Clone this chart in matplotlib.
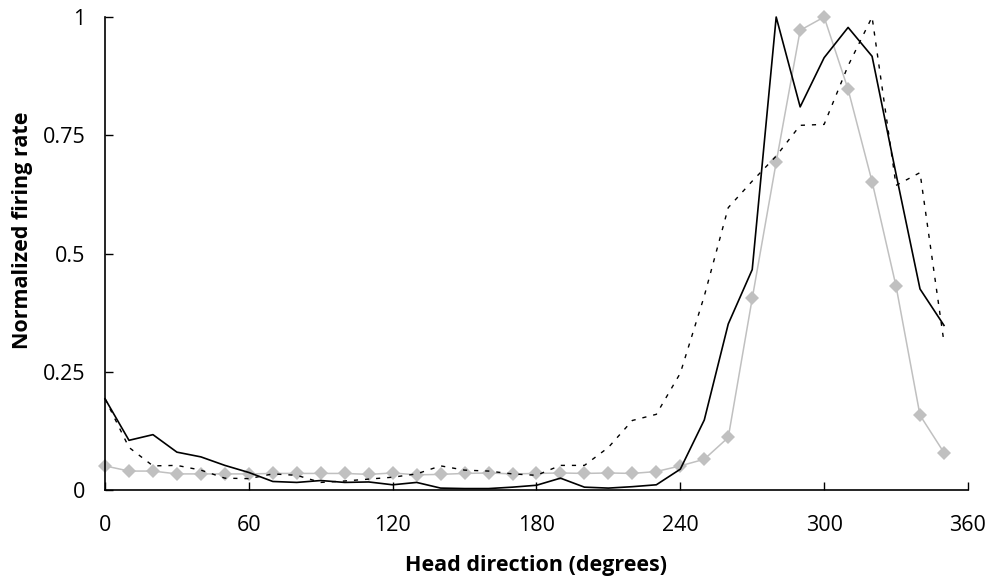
import numpy as np
import matplotlib
matplotlib.use("Agg")
import matplotlib.pyplot as plt

# head direction bins (degrees)
angles = np.arange(0, 360, 10)

# solid black curve
solid_rate = [0.193, 0.105, 0.117, 0.080, 0.070, 0.052, 0.037, 0.018, 0.016, 0.020,
              0.016, 0.017, 0.011, 0.016, 0.004, 0.003, 0.003, 0.006, 0.010, 0.025,
              0.006, 0.004, 0.007, 0.011, 0.044, 0.148, 0.351, 0.466, 1.000, 0.810,
              0.914, 0.978, 0.917, 0.668, 0.425, 0.348]

# dashed black curve
dashed_rate = [0.193, 0.090, 0.051, 0.052, 0.042, 0.025, 0.024, 0.034, 0.031, 0.016,
               0.019, 0.023, 0.027, 0.034, 0.051, 0.042, 0.040, 0.034, 0.031, 0.052,
               0.052, 0.090, 0.147, 0.160, 0.247, 0.410, 0.597, 0.653, 0.706, 0.771,
               0.773, 0.897, 1.000, 0.644, 0.671, 0.312]

# grey curve with diamonds
grey_rate = [0.051, 0.040, 0.040, 0.034, 0.034, 0.034, 0.034, 0.035, 0.035, 0.035,
             0.035, 0.033, 0.036, 0.032, 0.033, 0.035, 0.036, 0.034, 0.035, 0.036,
             0.035, 0.036, 0.035, 0.039, 0.051, 0.065, 0.111, 0.405, 0.693, 0.972,
             1.000, 0.847, 0.652, 0.431, 0.158, 0.079]

x_ticks = [0, 60, 120, 180, 240, 300, 360]
y_ticks = [0, 0.25, 0.5, 0.75, 1]
y_tick_labels = ["0", "0.25", "0.5", "0.75", "1"]

plt.rcParams["font.family"] = ["Open Sans", "DejaVu Sans"]

fig = plt.figure(figsize=(9.86, 5.77), dpi=100)
ax = fig.add_axes([0.1065, 0.1508, 0.8752, 0.8197])

ax.plot(angles, grey_rate, color="#c0c0c0", linewidth=1.1, marker="D",
        markersize=7, markeredgewidth=0, clip_on=False, zorder=2)
ax.plot(angles, dashed_rate, color="black", linewidth=1.0,
        linestyle=(0, (3, 5)), clip_on=False, zorder=3)
ax.plot(angles, solid_rate, color="black", linewidth=1.2, clip_on=False, zorder=4)

ax.set_xlim(0, 360)
ax.set_ylim(0, 1)
ax.set_xticks(x_ticks)
ax.set_xticklabels([str(t) for t in x_ticks])
ax.set_yticks(y_ticks)
ax.set_yticklabels(y_tick_labels)

for side in ["top", "right"]:
    ax.spines[side].set_visible(False)
for side in ["left", "bottom"]:
    ax.spines[side].set_linewidth(1.2)

ax.tick_params(direction="in", length=6, width=1.0, labelsize=15.5)
ax.tick_params(axis="x", pad=18)
ax.tick_params(axis="y", pad=14)

ax.set_xlabel("Head direction (degrees)", fontsize=15.5, fontweight="bold", labelpad=14)
ax.set_ylabel("Normalized firing rate", fontsize=15.5, fontweight="bold")
# label sits a bit above the axis centre in the original
ax.yaxis.set_label_coords(-0.084, 0.55)

fig.savefig("out.png", dpi=100)
